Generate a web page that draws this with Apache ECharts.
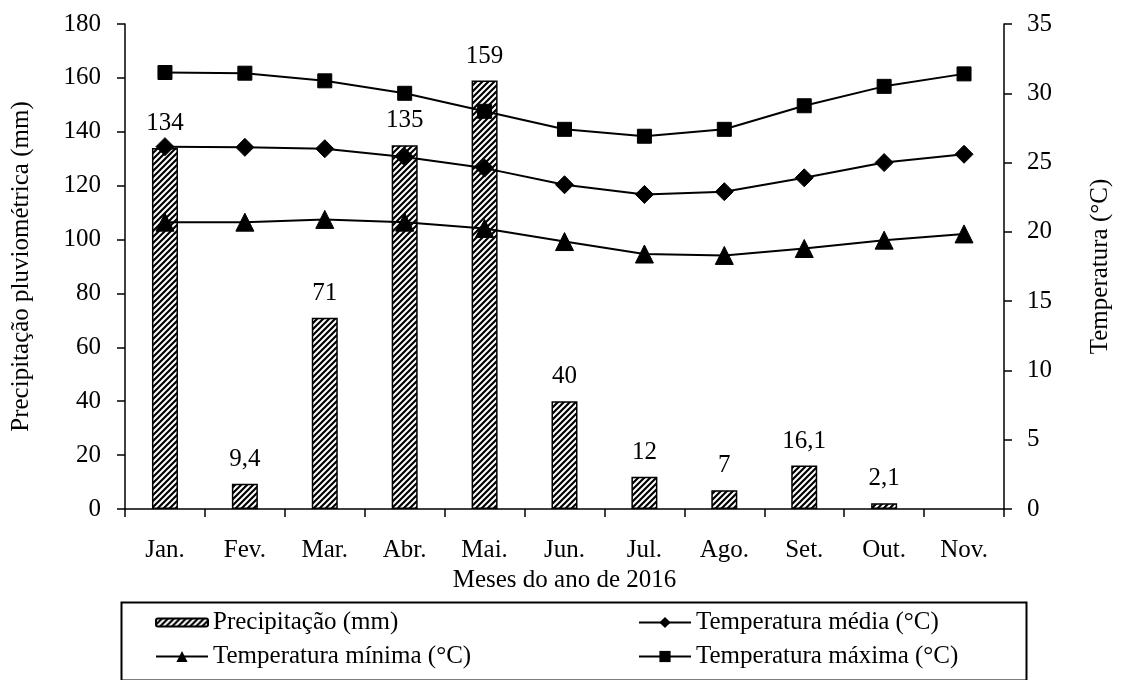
<!DOCTYPE html>
<html><head><meta charset="utf-8">
<script src="https://cdn.jsdelivr.net/npm/echarts@6/dist/echarts.min.js"></script>
<style>html,body{margin:0;padding:0;background:#fff}#c{width:1125px;height:680px}</style>
</head><body><div id="c"></div>
<script>
// ---- data ----
const months = ['Jan.', 'Fev.', 'Mar.', 'Abr.', 'Mai.', 'Jun.', 'Jul.', 'Ago.', 'Set.', 'Out.', 'Nov.'];
const precipitacao = [134, 9.4, 71, 135, 159, 40, 12, 7, 16.1, 2.1, null];
const tempMedia = [26.15, 26.1, 26.0, 25.4, 24.6, 23.4, 22.7, 22.9, 23.9, 25.0, 25.6];
const tempMinima = [20.7, 20.7, 20.9, 20.7, 20.25, 19.3, 18.4, 18.3, 18.8, 19.4, 19.85];
const tempMaxima = [31.5, 31.45, 30.9, 30.0, 28.7, 27.4, 26.9, 27.4, 29.1, 30.5, 31.4];
const leftAxisRange = [0, 180, 20];
const rightAxisRange = [0, 35, 5];
const names = ['Precipitação (mm)', 'Temperatura média (°C)', 'Temperatura mínima (°C)', 'Temperatura máxima (°C)'];

// ---- hatch pattern ----
const pc = document.createElement('canvas');
pc.width = 6; pc.height = 6;
const g = pc.getContext('2d');
g.fillStyle = '#fff'; g.fillRect(0, 0, 6, 6);
g.strokeStyle = '#000'; g.lineWidth = 2.2;
g.beginPath();
g.moveTo(-1, 7); g.lineTo(7, -1);
g.moveTo(-4, 4); g.lineTo(4, -4);
g.moveTo(2, 10); g.lineTo(10, 2);
g.stroke();

const FONT = 'Liberation Serif';
const txt = { fontFamily: FONT, fontSize: 25, color: '#000' };
const axisLine = { show: true, lineStyle: { color: '#000', width: 1.5 } };
const axisTick = { show: true, inside: false, length: 8, lineStyle: { color: '#000', width: 1.5 } };

const chart = echarts.init(document.getElementById('c'), null, { renderer: 'canvas' });

function lineSeries(name, data, symbol, size) {
  return {
    name, type: 'line', yAxisIndex: 1, data,
    symbol, symbolSize: size,
    lineStyle: { color: '#000', width: 2 },
    itemStyle: { color: '#000', borderColor: '#000' },
    emphasis: { disabled: true },
    animation: false, z: 3
  };
}

function leg(name, left, top, h) {
  return {
    data: [name], left, top, itemWidth: 52, itemHeight: h, selectedMode: false,
    padding: 0, itemGap: 0, textStyle: { ...txt, padding: [0, 0, 0, 0] }
  };
}

chart.setOption({
  animation: false,
  backgroundColor: '#fff',
  grid: { left: 125, right: 121, top: 24, bottom: 171, containLabel: false },
  legend: [
    leg(names[0], 155, 610, 8),
    leg(names[1], 638, 610, 14),
    leg(names[2], 155, 644, 14),
    leg(names[3], 638, 644, 14)
  ],
  graphic: [{
    type: 'rect', left: 119, top: 600,
    shape: { width: 905, height: 78 },
    style: { fill: 'none', stroke: '#000', lineWidth: 2 }, silent: true
  }],
  xAxis: {
    type: 'category', data: months, boundaryGap: true,
    axisLine, axisTick: { ...axisTick, alignWithLabel: false },
    axisLabel: { ...txt, margin: 29 },
    name: 'Meses do ano de 2016', nameLocation: 'middle', nameGap: 58,
    nameTextStyle: txt,
    splitLine: { show: false }
  },
  yAxis: [{
    type: 'value', min: leftAxisRange[0], max: leftAxisRange[1], interval: leftAxisRange[2],
    axisLine, axisTick, axisLabel: { ...txt, margin: 24 },
    splitLine: { show: false },
    name: 'Precipitação pluviométrica (mm)', nameLocation: 'middle', nameRotate: 90, nameGap: 91,
    nameTextStyle: txt
  }, {
    type: 'value', position: 'right', min: rightAxisRange[0], max: rightAxisRange[1], interval: rightAxisRange[2],
    axisLine, axisTick, axisLabel: { ...txt, margin: 23 },
    splitLine: { show: false },
    name: 'Temperatura (°C)', nameLocation: 'middle', nameRotate: 90, nameGap: 84,
    nameTextStyle: txt
  }],
  series: [{
    name: names[0], type: 'bar', data: precipitacao, barWidth: 26,
    itemStyle: { color: { image: pc, repeat: 'repeat' }, borderColor: '#000', borderWidth: 1.5 },
    label: {
      show: true, position: 'top', distance: 12, ...txt,
      formatter: p => (p.value == null ? '' : String(p.value).replace('.', ','))
    },
    emphasis: { disabled: true }, z: 2
  },
  lineSeries(names[1], tempMedia, 'diamond', 18),
  lineSeries(names[2], tempMinima, 'triangle', 18),
  lineSeries(names[3], tempMaxima, 'rect', 14)
  ]
});
</script></body></html>
